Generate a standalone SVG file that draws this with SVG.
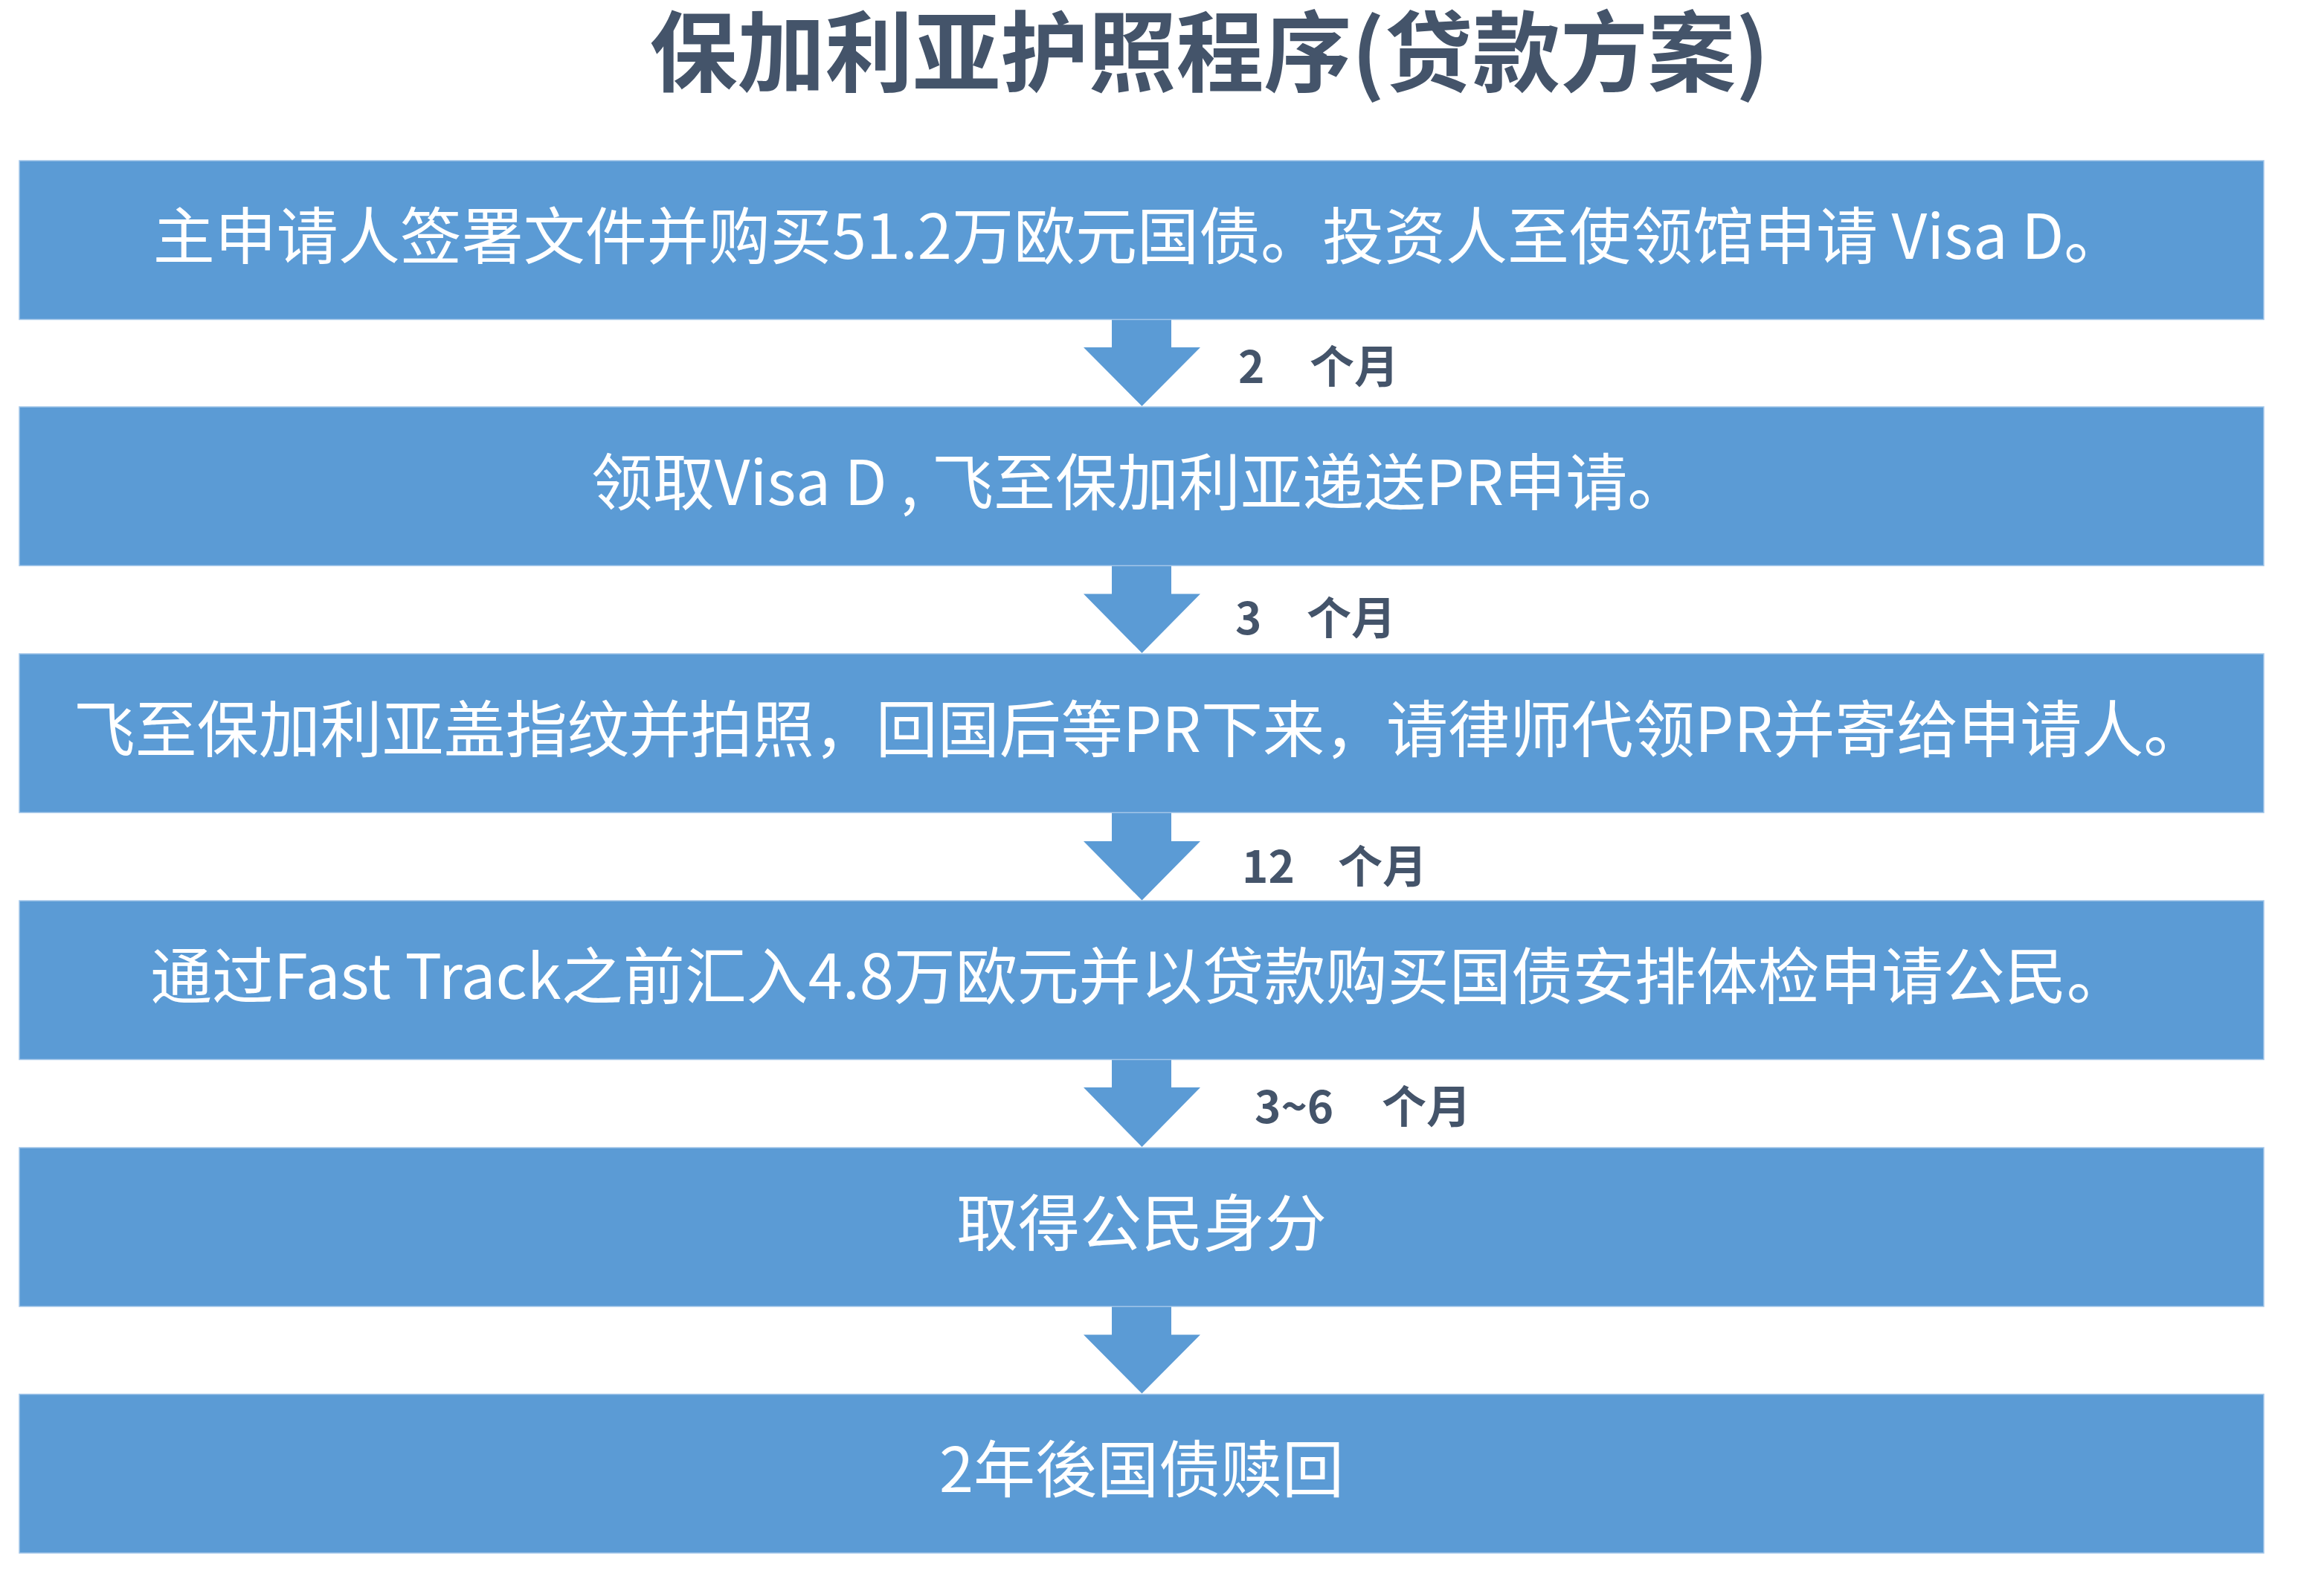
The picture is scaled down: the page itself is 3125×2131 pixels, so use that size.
<svg xmlns="http://www.w3.org/2000/svg" width="3125" height="2131" viewBox="0 0 3125 2131">
<style>
.bg{fill:#ffffff}
.box{fill:#5b9bd5;stroke:#a3c6e9;stroke-width:1.5}
.arrow{fill:#5b9bd5}
.title{font-family:"Noto Sans CJK SC","Noto Sans",sans-serif;font-size:118px;font-weight:bold;fill:#44546a;text-anchor:middle}
.t{font-family:"Noto Sans CJK SC","Noto Sans",sans-serif;font-size:83px;fill:#ffffff;text-anchor:middle}
.lbl{font-family:"Noto Sans CJK SC","Noto Sans",sans-serif;font-size:60px;font-weight:bold;fill:#44546a}
</style>
<rect class="bg" x="0" y="0" width="3125" height="2131"/>
<g id="title"><text class="title" x="1626" y="114">保加利亚护照程序(贷款方案)</text></g>
<g id="connectors">
<path class="arrow" d="M1495,429 L1575,429 L1575,467 L1614,467 L1535.5,546 L1457,467 L1495,467 Z"/>
<path class="arrow" d="M1495,760 L1575,760 L1575,798.5 L1614,798.5 L1535.5,878 L1457,798.5 L1495,798.5 Z"/>
<path class="arrow" d="M1495,1092 L1575,1092 L1575,1131 L1614,1131 L1535.5,1210.5 L1457,1131 L1495,1131 Z"/>
<path class="arrow" d="M1495,1424 L1575,1424 L1575,1462 L1614,1462 L1535.5,1542 L1457,1462 L1495,1462 Z"/>
<path class="arrow" d="M1495,1756 L1575,1756 L1575,1794.5 L1614,1794.5 L1535.5,1873.5 L1457,1794.5 L1495,1794.5 Z"/>
<text class="lbl" y="515"><tspan x="1665">2</tspan><tspan x="1761">个月</tspan></text>
<text class="lbl" y="853"><tspan x="1661">3</tspan><tspan x="1757">个月</tspan></text>
<text class="lbl" y="1187"><tspan x="1670">12</tspan><tspan x="1799">个月</tspan></text>
<text class="lbl" y="1510"><tspan x="1687">3~6</tspan><tspan x="1858">个月</tspan></text>
</g>
<g id="step1"><rect class="box" x="26" y="216" width="3018" height="213.5"/><text class="t" x="1532" y="348">主申请人签署文件并购买51.2万欧元国债。投资人至使领馆申请 Visa D。</text></g>
<g id="step2"><rect class="box" x="26" y="547" width="3018" height="213.5"/><text class="t" x="1533" y="679">领取Visa D , 飞至保加利亚递送PR申请。</text></g>
<g id="step3"><rect class="box" x="26" y="879" width="3018" height="213.5"/><text class="t" x="1532" y="1011">飞至保加利亚盖指纹并拍照，回国后等PR下来，请律师代领PR并寄给申请人。</text></g>
<g id="step4"><rect class="box" x="26" y="1211" width="3018" height="213.5"/><text class="t" x="1532" y="1343">通过Fast Track之前汇入4.8万欧元并以贷款购买国债安排体检申请公民。</text></g>
<g id="step5"><rect class="box" x="26" y="1543" width="3018" height="213.5"/><text class="t" x="1535" y="1675">取得公民身分</text></g>
<g id="step6"><rect class="box" x="26" y="1874.5" width="3018" height="213.5"/><text class="t" x="1535" y="2006">2年後国债赎回</text></g>
</svg>
